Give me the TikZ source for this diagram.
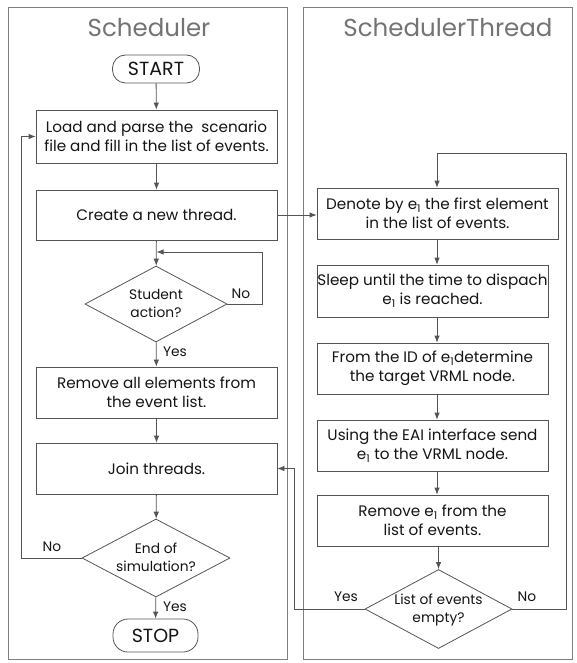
\documentclass[tikz,border=0pt]{standalone}
\usepackage{fontspec}
\setmainfont{Poppins}
\usetikzlibrary{shapes.geometric,arrows.meta,calc}
\newcommand\eo{e\textsubscript{1}}
\newcommand\dlabel[1]{\smash{\raisebox{-.3em}{\makebox[0pt]{\begin{tabular}{@{}c@{}}#1\end{tabular}}}}}
\definecolor{lncol}{gray}{0.33}
\definecolor{txcol}{gray}{0.08}
\definecolor{ttcol}{gray}{0.45}
\begin{document}
\begin{tikzpicture}[x=1pt,y=-1pt,
  every node/.style={text=txcol,font=\fontsize{15.2}{19}\selectfont},
  panel/.style={draw=lncol!75,line width=0.8pt},
  title/.style={text=ttcol,font=\fontsize{24.5}{28}\selectfont},
  procbox/.style={draw=lncol,line width=0.8pt,rectangle,align=center,inner sep=0pt},
  term/.style={draw=lncol,line width=0.8pt,rectangle,rounded corners=13pt,inner sep=0pt,font=\fontsize{19}{22}\selectfont},
  decision/.style={draw=lncol,line width=0.8pt,diamond,inner sep=0pt,font=\fontsize{13.8}{18}\selectfont},
  arr/.style={draw=lncol,line width=0.8pt,-{Latex[length=7pt,width=5.5pt]}},
  lnk/.style={draw=lncol,line width=0.8pt},
  lbl/.style={inner sep=0pt,font=\fontsize{13.8}{18}\selectfont}]
\useasboundingbox (0,0) rectangle (577,663);
% panels
\draw[panel] (8,7) rectangle (287,659);
\draw[panel] (303,7) rectangle (572,659);
\node[title] (t1) at (149,28) {Scheduler};
\node[title] (t2) at (448,28) {SchedulerThread};
% left column
\node[term,minimum width=87pt,minimum height=28pt] (start) at (156,69) {START};
\node[procbox,minimum width=241pt,minimum height=53pt] (load) at (156.5,136.5) {Load and parse the\ \ scenario\\file and fill in the list of events.};
\node[procbox,minimum width=241pt,minimum height=50pt] (create) at (156.5,215) {Create a new thread.};
\node[decision,minimum width=142pt,minimum height=76pt] (student) at (156,304) {\dlabel{Student\\action?}};
\node[procbox,minimum width=241pt,minimum height=51pt] (remove) at (156.5,392.5) {Remove all elements from\\the event list.};
\node[procbox,minimum width=241pt,minimum height=51pt] (join) at (156.5,468.5) {Join threads.};
\node[decision,minimum width=148pt,minimum height=78pt] (endsim) at (156,558) {\dlabel{End of\\simulation?}};
\node[term,minimum width=85pt,minimum height=33pt,rounded corners=15pt] (stop) at (155.5,635.5) {STOP};
% right column
\node[procbox,minimum width=241pt,minimum height=51pt] (denote) at (437.5,213.5) {Denote by \eo{} the first element\\in the list of events.};
\node[procbox,minimum width=231pt,minimum height=52pt] (sleep) at (432.5,291) {Sleep until the time to dispach\\\eo{} is reached.};
\node[procbox,minimum width=231pt,minimum height=51pt] (fromid) at (432.5,368.5) {From the ID of \eo{}determine\\the target VRML node.};
\node[procbox,minimum width=231pt,minimum height=51pt] (using) at (432.5,445.5) {Using the EAI interface send\\\eo{} to the VRML node.};
\node[procbox,minimum width=231pt,minimum height=51pt] (removee) at (432.5,520.5) {Remove \eo{} from the\\list of events.};
\node[decision,minimum width=147pt,minimum height=79pt] (listempty) at (438.5,609) {\dlabel{List of events\\empty?}};
% coordinates
\coordinate (sloop) at (262,252);
\coordinate (eloop) at (21,558);
\coordinate (tloop) at (566,153);
\coordinate (yloop) at (294,609);
% left connectors
\draw[arr] (start) -- (load);
\draw[arr] (load) -- (create);
\draw[arr] (create) -- (student);
\draw[arr] (student) -- (remove);
\draw[arr] (remove) -- (join);
\draw[arr] (join) -- (endsim);
\draw[arr] (endsim) -- (stop);
\draw[arr] (student.east) -| (sloop) -- (156.5,252);
\draw[arr] (endsim.west) -- (eloop) |- (load.west);
\node[lbl] (no1) at (241,294) {No};
\node[lbl] (yes1) at (175,352) {Yes};
\node[lbl] (no2) at (52,547) {No};
\node[lbl] (yes2) at (175,607) {Yes};
% cross connector
\draw[arr] (create.east) -- (create.east -| denote.west);
% right connectors
\draw[arr] (denote.south -| 437,0) -- (sleep.north -| 437,0);
\draw[arr] (sleep.south -| 437,0) -- (fromid.north -| 437,0);
\draw[arr] (fromid.south -| 437,0) -- (using.north -| 437,0);
\draw[arr] (using.south -| 437,0) -- (removee.north -| 437,0);
\draw[arr] (removee.south -| 438.5,0) -- (listempty.north);
\draw[arr] (listempty.east) -| (tloop) -| (denote.north -| 437,0);
\draw[arr] (listempty.west) -- (yloop) |- (join.east);
\node[lbl] (yes3) at (346,597) {Yes};
\node[lbl] (no3) at (527,597) {No};
\end{tikzpicture}
\end{document}
